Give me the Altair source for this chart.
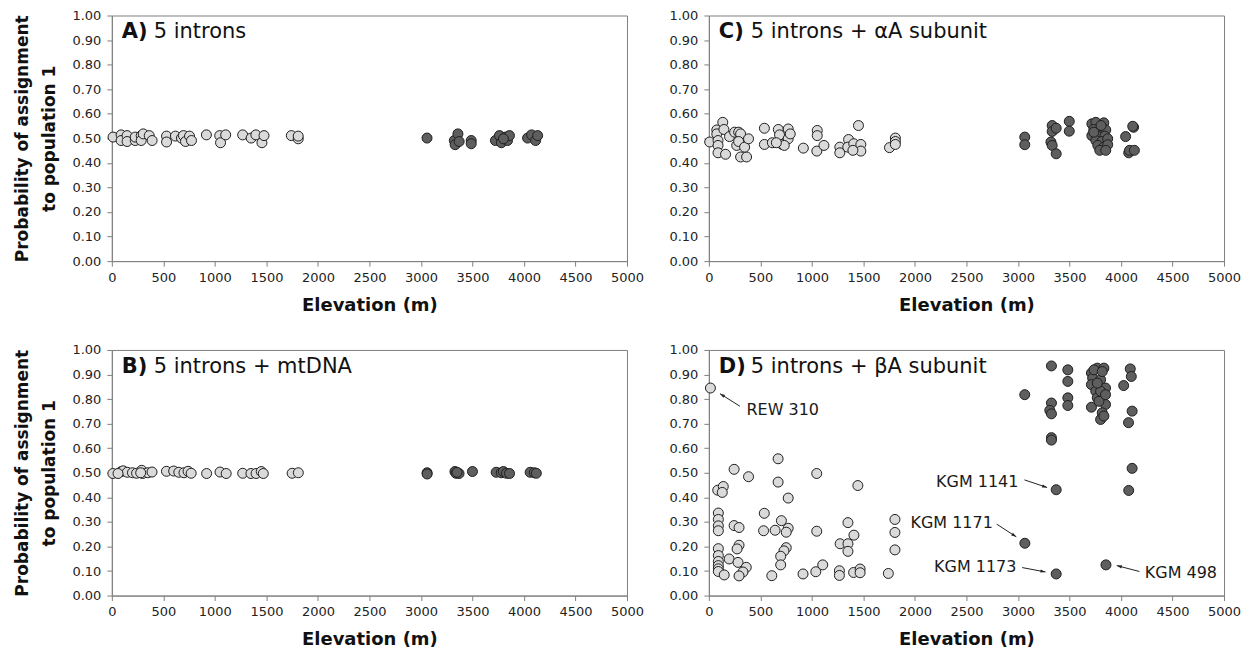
import math
import altair as alt
import pandas as pd

# ---------------- data ----------------
# Panel A: 5 introns
a_low_x = [12, 90, 90, 148, 148, 227, 227, 285, 285, 305, 363, 391, 531, 531, 617, 676, 695, 715,
           754, 773, 918, 1047, 1055, 1105, 1270, 1352, 1398, 1457, 1477, 1742, 1809, 1809]
a_low_y = [0.505, 0.514, 0.491, 0.511, 0.487, 0.491, 0.505, 0.511, 0.491, 0.518, 0.511, 0.491, 0.509, 0.485,
           0.509, 0.501, 0.511, 0.487, 0.509, 0.491, 0.514, 0.511, 0.482, 0.514, 0.514, 0.501, 0.514, 0.482,
           0.511, 0.511, 0.498, 0.509]
a_high_x = [3059, 3324, 3332, 3359, 3371, 3488, 3488, 3723, 3762, 3781, 3820, 3840, 3859, 3801, 4035, 4074,
            4113, 4133]
a_high_y = [0.501, 0.491, 0.474, 0.518, 0.487, 0.491, 0.478, 0.491, 0.511, 0.482, 0.505, 0.491, 0.511, 0.498,
            0.501, 0.514, 0.491, 0.511]

# Panel B: 5 introns + mtDNA
b_low_x = [10, 90, 110, 150, 200, 240, 290, 300, 350, 390, 530, 600, 650, 700, 740, 770, 920, 1050, 1110,
           1270, 1350, 1400, 1450, 1470, 1750, 1810, 60, 280]
b_low_y = [0.497, 0.505, 0.508, 0.502, 0.500, 0.498, 0.510, 0.497, 0.500, 0.503, 0.506, 0.507, 0.502, 0.500,
           0.506, 0.498, 0.497, 0.503, 0.497, 0.498, 0.497, 0.497, 0.505, 0.497, 0.498, 0.500, 0.497, 0.500]
b_high_x = [3060, 3330, 3340, 3370, 3500, 3730, 3780, 3800, 3830, 3860, 4060, 4100, 4120, 3060, 3350]
b_high_y = [0.500, 0.505, 0.498, 0.497, 0.505, 0.502, 0.500, 0.505, 0.498, 0.497, 0.502, 0.500, 0.498, 0.495,
            0.502]

# Panel C: 5 introns + alphaA subunit
c_low_x = [8, 77, 77, 89, 89, 89, 135, 146, 162, 200, 250, 289, 308, 270, 289, 308, 366, 347, 385, 539, 539,
           616, 674, 686, 712, 770, 770, 790, 732, 655, 917, 1052, 1052, 1048, 1117, 1271, 1271, 1356, 1348,
           1406, 1452, 1475, 1475, 1398, 1753, 1810, 1810, 1810]
c_low_y = [0.485, 0.534, 0.518, 0.491, 0.471, 0.441, 0.565, 0.536, 0.435, 0.507, 0.525, 0.525, 0.518, 0.471,
           0.487, 0.424, 0.424, 0.464, 0.498, 0.541, 0.475, 0.482, 0.536, 0.514, 0.475, 0.538, 0.498, 0.518,
           0.471, 0.482, 0.460, 0.532, 0.511, 0.448, 0.471, 0.464, 0.441, 0.495, 0.464, 0.478, 0.552, 0.475,
           0.448, 0.451, 0.462, 0.501, 0.487, 0.475]
c_high_x = [3066, 3066, 3332, 3332, 3320, 3332, 3371, 3371, 3498, 3498, 4045, 4075, 4083, 4122, 4130, 4114,
            3717, 3756, 3833, 3736, 3794, 3852, 3717, 3775, 3844, 3756, 3813, 3871, 3775, 3833, 3871, 3794,
            3852, 3736, 3806]
c_high_y = [0.505, 0.474, 0.552, 0.528, 0.485, 0.471, 0.437, 0.541, 0.569, 0.529, 0.507, 0.441, 0.451, 0.545,
            0.451, 0.549, 0.559, 0.565, 0.563, 0.536, 0.532, 0.534, 0.511, 0.509, 0.509, 0.491, 0.487, 0.498,
            0.471, 0.464, 0.474, 0.451, 0.451, 0.525, 0.552]

# Panel D: 5 introns + betaA subunit
d_low_x = [15, 672, 245, 385, 1047, 672, 86, 140, 130, 1446, 770, 92, 92, 92, 92, 538, 245, 293, 531, 643,
           704, 770, 751, 1047, 1350, 1408, 1806, 1806, 1806, 1274, 1350, 1350, 92, 92, 92, 92, 92, 92, 293,
           274, 197, 283, 363, 331, 293, 149, 751, 729, 697, 697, 611, 914, 1038, 1105, 1267, 1267, 1405,
           1468, 1468, 1742]
d_low_y = [0.845, 0.557, 0.514, 0.484, 0.497, 0.462, 0.429, 0.444, 0.420, 0.448, 0.397, 0.336, 0.310, 0.284,
           0.264, 0.335, 0.285, 0.277, 0.264, 0.266, 0.305, 0.274, 0.258, 0.262, 0.297, 0.246, 0.310, 0.257,
           0.186, 0.211, 0.211, 0.180, 0.191, 0.163, 0.139, 0.122, 0.109, 0.098, 0.205, 0.190, 0.149, 0.135,
           0.115, 0.096, 0.080, 0.084, 0.195, 0.182, 0.160, 0.125, 0.081, 0.088, 0.097, 0.125, 0.101, 0.082,
           0.094, 0.108, 0.093, 0.090]
d_high_x = [3325, 3484, 3484, 3484, 3484, 3325, 3309, 3325, 3325, 3325, 4090, 4100, 4026, 4108, 4073, 4108,
            4075, 3066, 3371, 3067, 3371, 3854, 3713, 3770, 3834, 3725, 3802, 3713, 3755, 3834, 3770, 3850,
            3713, 3818, 3802, 3786, 3738, 3850, 3802, 3770, 3818, 3834, 3850]
d_high_y = [0.935, 0.919, 0.872, 0.805, 0.774, 0.784, 0.754, 0.740, 0.643, 0.633, 0.923, 0.892, 0.855, 0.751,
            0.704, 0.518, 0.428, 0.818, 0.431, 0.213, 0.088, 0.125, 0.906, 0.926, 0.926, 0.885, 0.879, 0.859,
            0.832, 0.838, 0.805, 0.778, 0.767, 0.744, 0.717, 0.791, 0.919, 0.845, 0.832, 0.865, 0.912, 0.731,
            0.818]

# annotations in panel D (label, text anchor x/y, alignment, arrow tail x/y, arrow tip x/y)
ann_labels = ["REW 310", "KGM 1141", "KGM 1171", "KGM 1173", "KGM 498"]
ann_text_x = [365, 3004, 2756, 2985, 4231]
ann_text_y = [0.757, 0.464, 0.295, 0.118, 0.093]
ann_align = ["left", "right", "right", "right", "left"]
ann_tail_x = [301, 3063, 2793, 3041, 4179]
ann_tail_y = [0.771, 0.471, 0.291, 0.114, 0.098]
ann_tip_x = [108, 3283, 2984, 3267, 3959]
ann_tip_y = [0.822, 0.440, 0.239, 0.096, 0.122]

x_ticks = [0, 500, 1000, 1500, 2000, 2500, 3000, 3500, 4000, 4500, 5000]
y_ticks = [0.0, 0.1, 0.2, 0.3, 0.4, 0.5, 0.6, 0.7, 0.8, 0.9, 1.0]

W, H = 516, 246
FONT = "DejaVu Sans"
LIGHT = "#dadada"
DARK = "#5e5e5e"


def panel(letter, subtitle, low_x, low_y, high_x, high_y, show_ytitle, annotate=False):
    df = pd.DataFrame(
        [{"elev": x, "prob": y, "grp": "low"} for x, y in zip(low_x, low_y)]
        + [{"elev": x, "prob": y, "grp": "high"} for x, y in zip(high_x, high_y)]
    )
    yaxis_kw = dict(values=y_ticks, format=".2f")
    if show_ytitle:
        yaxis_kw["title"] = ["Probability of assignment", "to population 1"]
    else:
        yaxis_kw["title"] = None
    xscale = alt.Scale(domain=[0, 5000], nice=False)
    yscale = alt.Scale(domain=[0, 1], nice=False)
    xaxis = alt.Axis(values=x_ticks, format="d", title="Elevation (m)",
                     labelFlush=False, labelOverlap=False)
    yaxis = alt.Axis(**yaxis_kw)

    def X(f):
        return alt.X(f, scale=xscale, axis=xaxis)

    def Y(f):
        return alt.Y(f, scale=yscale, axis=yaxis)

    pts = alt.Chart(df).mark_circle(size=100, opacity=1, stroke="#1e1e1e", strokeWidth=1).encode(
        x=X("elev:Q"), y=Y("prob:Q"),
        fill=alt.Fill("grp:N", scale=alt.Scale(domain=["low", "high"], range=[LIGHT, DARK]), legend=None),
    )
    lab_df = pd.DataFrame({"letter": [letter], "sub": [subtitle]})
    lab1 = alt.Chart(lab_df).mark_text(font=FONT, fontSize=21, fontWeight="bold", align="left",
                                       baseline="middle", color="#111").encode(
        text="letter:N", x=alt.value(10), y=alt.value(17))
    lab2 = alt.Chart(lab_df).mark_text(font=FONT, fontSize=21, align="left",
                                       baseline="middle", color="#111").encode(
        text="sub:N", x=alt.value(42), y=alt.value(17))
    layers = [pts, lab1, lab2]
    if annotate:
        rows = []
        for i in range(len(ann_labels)):
            dx = (ann_tip_x[i] - ann_tail_x[i]) * W / 5000.0
            dy = -(ann_tip_y[i] - ann_tail_y[i]) * H
            ang = math.degrees(math.atan2(dx, -dy)) % 360
            rows.append({"label": ann_labels[i], "tx": ann_text_x[i], "ty": ann_text_y[i],
                         "align": ann_align[i], "x0": ann_tail_x[i], "y0": ann_tail_y[i],
                         "x1": ann_tip_x[i], "y1": ann_tip_y[i], "ang": ang})
        adf = pd.DataFrame(rows)
        for al in ["left", "right"]:
            layers.append(alt.Chart(adf[adf["align"] == al]).mark_text(
                font=FONT, fontSize=16, align=al, baseline="middle", color="#1a1a1a").encode(
                x=X("tx:Q"), y=Y("ty:Q"), text="label:N"))
        layers.append(alt.Chart(adf).mark_rule(color="#222", strokeWidth=1).encode(
            x=X("x0:Q"), y=Y("y0:Q"), x2="x1:Q", y2="y1:Q"))
        layers.append(alt.Chart(adf).mark_point(
            shape="M0,0L-0.5,1.6L0.5,1.6Z", filled=True, size=40, color="#222", opacity=1).encode(
            x=X("x1:Q"), y=Y("y1:Q"), angle=alt.Angle("ang:Q", scale=None)))
    return alt.layer(*layers).properties(width=W, height=H)


pA = panel("A)", "5 introns", a_low_x, a_low_y, a_high_x, a_high_y, True)
pB = panel("B)", "5 introns + mtDNA", b_low_x, b_low_y, b_high_x, b_high_y, True)
pC = panel("C)", "5 introns + \u03b1A subunit", c_low_x, c_low_y, c_high_x, c_high_y, False)
pD = panel("D)", "5 introns + \u03b2A subunit", d_low_x, d_low_y, d_high_x, d_high_y, False, annotate=True)

chart = alt.vconcat(
    alt.hconcat(pA, pC, spacing=23),
    alt.hconcat(pB, pD, spacing=23),
    spacing=28,
).properties(
    padding={"left": 4, "top": 0, "right": 0, "bottom": 0}
).configure(
    background="white"
).configure_view(
    stroke="#808080", strokeWidth=1
).configure_axis(
    grid=False,
    domainColor="#808080",
    tickColor="#808080",
    tickSize=5,
    labelFont=FONT,
    labelFontSize=13,
    labelColor="#222",
    labelPadding=3,
    titleFont=FONT,
    titleFontSize=18,
    titleFontWeight="bold",
    titleColor="#111",
).configure_axisX(
    labelPadding=5,
    titlePadding=12,
).configure_axisY(
    labelPadding=6,
    titlePadding=13,
    titleFontSize=17,
    titleLineHeight=28,
)

chart.save("out.html", embed_options={"renderer": "svg", "actions": False})
